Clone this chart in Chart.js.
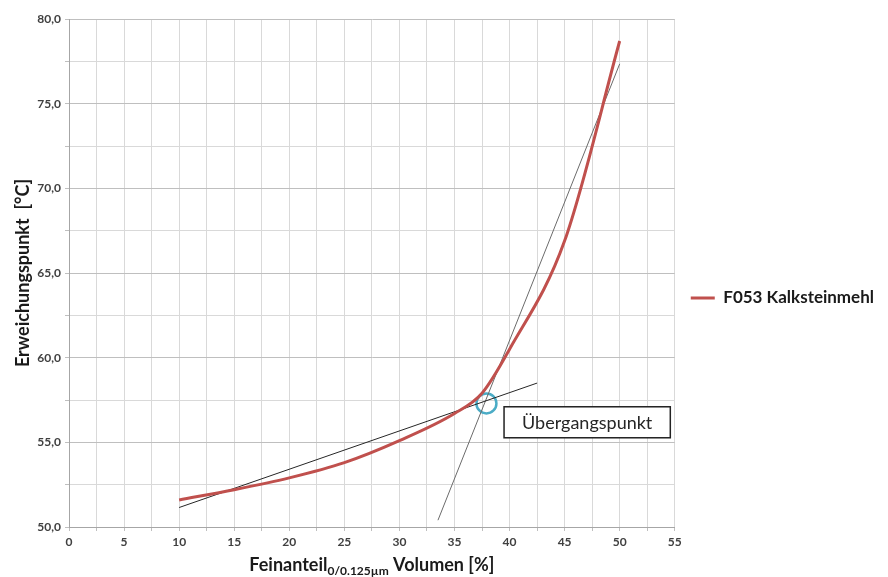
<!DOCTYPE html>
<html>
<head>
<meta charset="utf-8">
<script src="https://cdn.jsdelivr.net/npm/chart.js@4.4.0/dist/chart.umd.min.js"></script>
<style>
  body { margin: 0; background: #fff; }
  #wrap { width: 888px; height: 577px; }
</style>
</head>
<body>
<div id="wrap"><canvas id="softeningChart"></canvas></div>
<script>
// Erweichungspunkt vs. Feinanteil - F053 Kalksteinmehl

const fineContent = [10, 15, 20, 25, 30, 35, 37.5, 40, 45, 50];
const softeningPoint = [51.6, 52.2, 52.9, 53.8, 55.1, 56.7, 57.9, 60.5, 66.9, 78.7];

// the two tangent lines
const tangentLowX = [10, 42.5];
const tangentLowY = [51.15, 58.5];
const tangentHighX = [33.5, 50];
const tangentHighY = [50.4, 77.35];

// transition point + its label
const transitionX = [37.9];
const transitionY = [57.3];
const labelText = "Übergangspunkt";
const labelAnchor = [39.5, 57.1]; // top left corner of the box (data units)

const fontName = "Lato, 'Open Sans', sans-serif";

function toPoints(xs, ys) {
  return xs.map((x, i) => ({ x: x, y: ys[i] }));
}

function formatTick(value) {
  if (value % 5 !== 0) return "";
  return value.toFixed(1).replace(".", ",");
}

// draws the label box and the x axis title (needs a subscript)
const extrasPlugin = {
  id: "extras",
  afterDatasetsDraw(chart) {
    const ctx = chart.ctx;
    const xs = chart.scales.x;
    const ys = chart.scales.y;

    // label box
    ctx.save();
    ctx.font = "18px " + fontName;
    const w = ctx.measureText(labelText).width + 36;
    const h = 31;
    const left = xs.getPixelForValue(labelAnchor[0]);
    const top = ys.getPixelForValue(labelAnchor[1]);
    ctx.fillStyle = "#fff";
    ctx.fillRect(left, top, w, h);
    ctx.strokeStyle = "#222";
    ctx.lineWidth = 1.5;
    ctx.strokeRect(left, top, w, h);
    ctx.fillStyle = "#262626";
    ctx.textAlign = "center";
    ctx.textBaseline = "middle";
    ctx.fillText(labelText, left + w / 2, top + h / 2 + 1);
    ctx.restore();
  },
  afterDraw(chart) {
    const ctx = chart.ctx;
    const area = chart.chartArea;
    const parts = [
      { t: "Feinanteil", f: "bold 18px " + fontName, dy: 0 },
      { t: "0/0.125µm", f: "bold 12px " + fontName, dy: 4 },
      { t: " Volumen [%]", f: "bold 18px " + fontName, dy: 0 },
    ];
    ctx.save();
    let total = 0;
    parts.forEach((p) => {
      ctx.font = p.f;
      p.w = ctx.measureText(p.t).width;
      total += p.w;
    });
    let x = (area.left + area.right) / 2 - total / 2;
    const baseY = 571;
    ctx.fillStyle = "#1a1a1a";
    ctx.textBaseline = "alphabetic";
    parts.forEach((p) => {
      ctx.font = p.f;
      ctx.fillText(p.t, x, baseY + p.dy);
      x += p.w;
    });
    ctx.restore();
  },
};

const ctx = document.getElementById("softeningChart").getContext("2d");

new Chart(ctx, {
  type: "scatter",
  data: {
    datasets: [
      {
        label: "F053 Kalksteinmehl",
        data: toPoints(fineContent, softeningPoint),
        showLine: true,
        borderColor: "#c0504d",
        backgroundColor: "#c0504d",
        borderWidth: 3,
        cubicInterpolationMode: "monotone",
        pointRadius: 0,
      },
      {
        label: "Tangente 1",
        data: toPoints(tangentLowX, tangentLowY),
        showLine: true,
        borderColor: "#262626",
        borderWidth: 1,
        pointRadius: 0,
      },
      {
        label: "Tangente 2",
        data: toPoints(tangentHighX, tangentHighY),
        showLine: true,
        borderColor: "#6b6b6b",
        borderWidth: 1,
        pointRadius: 0,
      },
      {
        label: "Übergang",
        data: toPoints(transitionX, transitionY),
        pointStyle: "circle",
        pointRadius: 10,
        pointBorderWidth: 2.5,
        pointBorderColor: "#4bacc6",
        pointBackgroundColor: "rgba(0,0,0,0)",
      },
    ],
  },
  options: {
    responsive: true,
    maintainAspectRatio: false,
    animation: false,
    layout: {
      padding: { top: 19, right: 4, bottom: 0, left: 0 },
    },
    plugins: {
      legend: {
        position: "right",
        labels: {
          filter: (item) => item.datasetIndex === 0,
          boxWidth: 24,
          boxHeight: 0,
          font: { family: fontName, size: 17, weight: "bold" },
          color: "#1a1a1a",
          padding: 16,
        },
      },
      tooltip: { enabled: false },
    },
    scales: {
      x: {
        type: "linear",
        min: 0,
        max: 55,
        ticks: {
          stepSize: 2.5,
          autoSkip: false,
          maxRotation: 0,
          callback: (v) => (v % 5 === 0 ? String(v) : ""),
          font: { family: fontName, size: 12, weight: "bold" },
          color: "#404040",
          padding: 4,
        },
        grid: {
          color: "#d9d9d9",
          tickLength: 4,
          tickColor: "#bfbfbf",
        },
        border: { color: "#a6a6a6" },
        afterFit: (scale) => {
          scale.height = 50;
        },
      },
      y: {
        min: 50,
        max: 80,
        ticks: {
          stepSize: 2.5,
          autoSkip: false,
          callback: (v) => formatTick(v),
          font: { family: fontName, size: 12, weight: "bold" },
          color: "#404040",
          padding: 4,
        },
        grid: {
          color: (c) => (c.tick && c.tick.value % 5 === 0 ? "#bfbfbf" : "#d9d9d9"),
          tickLength: 4,
          tickColor: "#bfbfbf",
        },
        border: { color: "#a6a6a6" },
        title: {
          display: true,
          text: "Erweichungspunkt  [°C]",
          font: { family: fontName, size: 18, weight: "bold" },
          color: "#1a1a1a",
          padding: { top: 12, bottom: 0 },
        },
        afterFit: (scale) => {
          scale.width = 69;
        },
      },
    },
  },
  plugins: [extrasPlugin],
});
</script>
</body>
</html>
